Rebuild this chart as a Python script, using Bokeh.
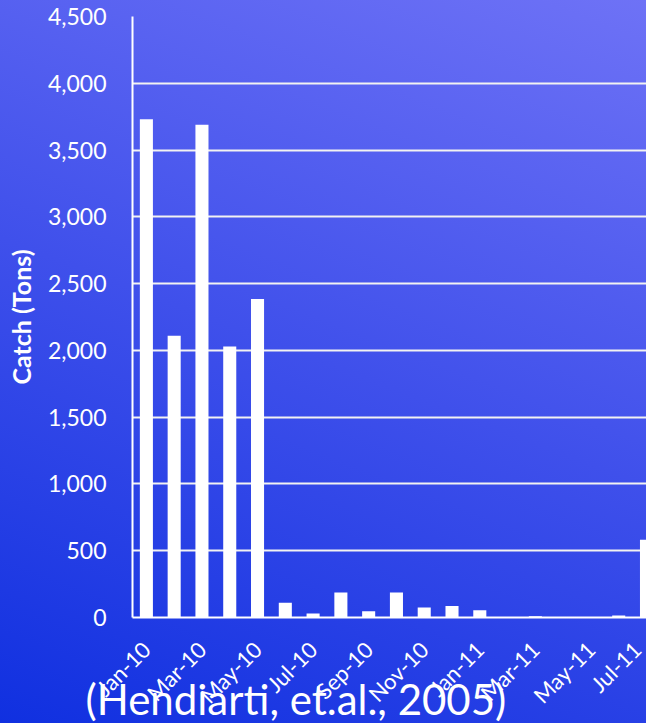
import math
from bokeh.plotting import figure
from bokeh.models import (ColumnDataSource, Range1d, FixedTicker, NumeralTickFormatter, Title)
from bokeh.embed import file_html
from bokeh.resources import INLINE

months = ["Jan-10", "Feb-10", "Mar-10", "Apr-10", "May-10", "Jun-10", "Jul-10",
          "Aug-10", "Sep-10", "Oct-10", "Nov-10", "Dec-10", "Jan-11", "Feb-11",
          "Mar-11", "Apr-11", "May-11", "Jun-11", "Jul-11"]
catch_tons = [3730, 2110, 3690, 2030, 2385, 110, 30, 188, 47, 188, 75, 87, 55, 0,
              10, 0, 0, 15, 582]
y_ticks = [0, 500, 1000, 1500, 2000, 2500, 3000, 3500, 4000, 4500]
x_tick_idx = [0, 2, 4, 6, 8, 10, 12, 14, 16, 18]
y_title = "Catch (Tons)"
caption = "(Hendiarti, et.al., 2005)"

idx = list(range(len(months)))
src = ColumnDataSource(data=dict(x=idx, top=catch_tons, month=months))

FONT = "Lato"

p = figure(width=646, height=723, output_backend="svg", toolbar_location=None,
           x_range=Range1d(-0.5, 18.0), y_range=Range1d(0, 4500),
           min_border_left=132, min_border_right=0, min_border_top=16,
           min_border_bottom=106)
p.background_fill_color = None
p.border_fill_color = None
p.outline_line_color = None
p.styles = {"background": "linear-gradient(21deg, #1030e0 0%, #3f50eb 50%, #6e72f6 100%)"}

p.vbar(x="x", top="top", width=0.47, source=src, fill_color="white", line_color=None)

# y axis
p.yaxis.ticker = FixedTicker(ticks=y_ticks)
p.yaxis.formatter = NumeralTickFormatter(format="0,0")
p.yaxis.axis_label = y_title
p.yaxis.axis_label_text_font = FONT
p.yaxis.axis_label_text_font_style = "bold"
p.yaxis.axis_label_text_font_size = "25px"
p.yaxis.axis_label_text_color = "white"
p.yaxis.axis_label_standoff = 9
p.yaxis.major_label_text_font = FONT
p.yaxis.major_label_text_font_size = "23px"
p.yaxis.major_label_text_color = "white"
p.yaxis.major_label_standoff = 26
p.yaxis.major_tick_line_color = None
p.yaxis.minor_tick_line_color = None
p.yaxis.major_tick_out = 0
p.yaxis.axis_line_color = "white"
p.yaxis.axis_line_width = 2

# x axis
p.xaxis.ticker = FixedTicker(ticks=x_tick_idx)
p.xaxis.major_label_overrides = {i: months[i] for i in x_tick_idx}
p.xaxis.major_label_orientation = math.pi / 4
p.xaxis.major_label_text_font = FONT
p.xaxis.major_label_text_font_size = "22px"
p.xaxis.major_label_text_color = "white"
p.xaxis.major_label_standoff = 28
p.xaxis.major_tick_line_color = None
p.xaxis.minor_tick_line_color = None
p.xaxis.major_tick_out = 0
p.xaxis.axis_line_color = "white"
p.xaxis.axis_line_width = 2

p.xgrid.grid_line_color = None
p.ygrid.grid_line_color = "#f2f2f2"
p.ygrid.grid_line_width = 2

cap = Title(text=caption, align="left", offset=-47, standoff=-96,
            vertical_align="top", text_font=FONT, text_font_size="42px",
            text_font_style="normal", text_color="white")
p.add_layout(cap, "below")

open("out.html", "w").write(file_html(p, INLINE))
